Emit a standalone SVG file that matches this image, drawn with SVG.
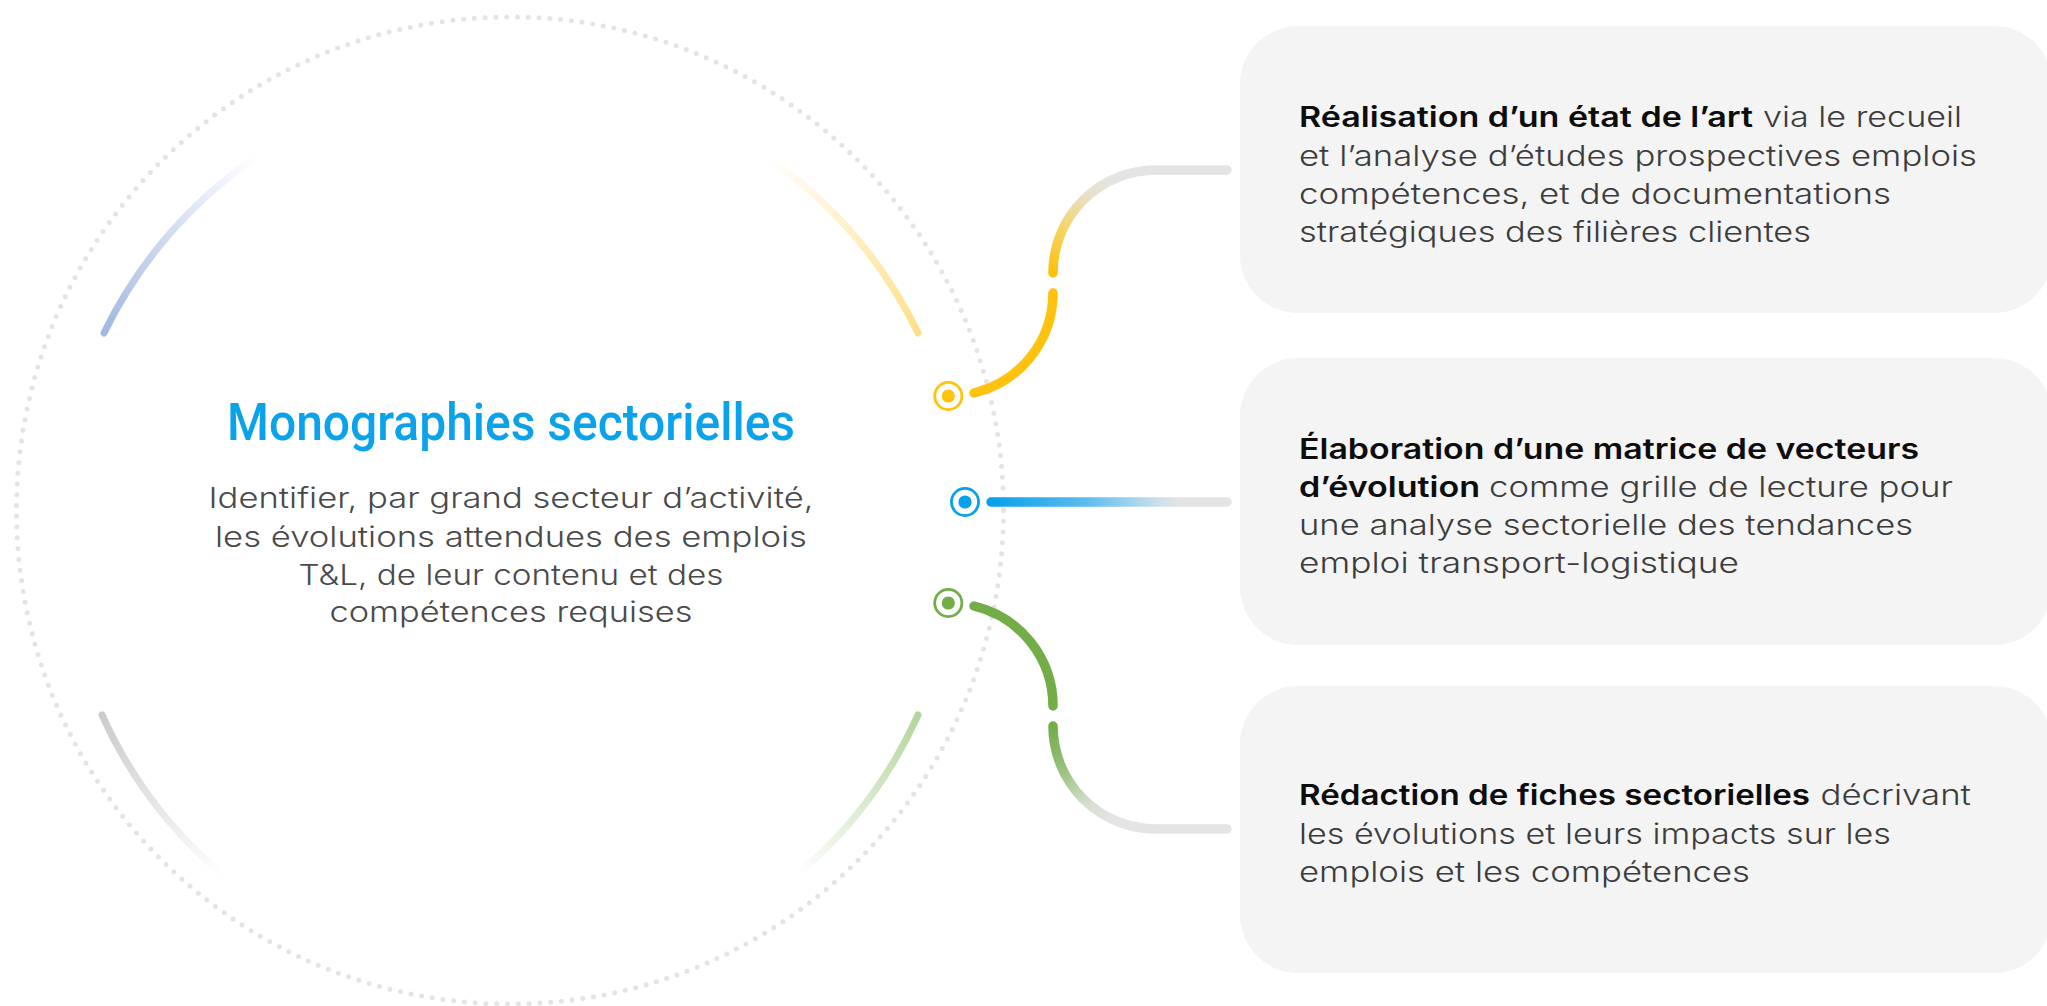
<svg xmlns="http://www.w3.org/2000/svg" width="2047" height="1006" viewBox="0 0 2047 1006">
<style>
.box{fill:#f4f4f4}
.reg{font-family:Inter,"Open Sans","Liberation Sans",sans-serif;font-weight:300;font-size:28px;fill:#3c3c3c}
.bold{font-family:Inter,"Open Sans","Liberation Sans",sans-serif;font-weight:600;font-size:28px;fill:#0d0d0d}
.ctr{font-family:Inter,"Open Sans","Liberation Sans",sans-serif;font-weight:300;font-size:28px;fill:#4a4a4a;text-anchor:middle}
.title{font-family:Roboto,"DejaVu Sans",sans-serif;font-weight:500;font-size:52px;fill:#0aa2eb;text-anchor:middle}
.deco{fill:none;stroke-width:7;stroke-linecap:round}
.conn{fill:none;stroke-width:9.5;stroke-linecap:round}
.ring{fill:#fff;stroke-width:2.8}
</style>
<defs>
<linearGradient id="gBlueArc" gradientUnits="userSpaceOnUse" x1="104" y1="333" x2="255" y2="158"><stop offset="0" stop-color="#a3b8e0"/><stop offset="1" stop-color="#a3b8e0" stop-opacity="0"/></linearGradient>
<linearGradient id="gYelArc" gradientUnits="userSpaceOnUse" x1="918" y1="333" x2="768" y2="158"><stop offset="0" stop-color="#fedf88"/><stop offset="1" stop-color="#fedf88" stop-opacity="0"/></linearGradient>
<linearGradient id="gGrayArc" gradientUnits="userSpaceOnUse" x1="102" y1="715" x2="223" y2="875"><stop offset="0" stop-color="#cbcbcb"/><stop offset="1" stop-color="#cbcbcb" stop-opacity="0"/></linearGradient>
<linearGradient id="gGreenArc" gradientUnits="userSpaceOnUse" x1="918" y1="715" x2="797" y2="875"><stop offset="0" stop-color="#b2d59c"/><stop offset="1" stop-color="#b2d59c" stop-opacity="0"/></linearGradient>
<linearGradient id="gYelConn" gradientUnits="userSpaceOnUse" x1="1053" y1="273" x2="1115" y2="180"><stop offset="0" stop-color="#fcc10e"/><stop offset="0.35" stop-color="#f6d35e"/><stop offset="0.7" stop-color="#e8dfbf"/><stop offset="1" stop-color="#e4e4e4"/></linearGradient>
<linearGradient id="gGreenConn" gradientUnits="userSpaceOnUse" x1="1053" y1="726" x2="1115" y2="819"><stop offset="0" stop-color="#72ad47"/><stop offset="0.4" stop-color="#9cc382"/><stop offset="0.75" stop-color="#d6dfcf"/><stop offset="1" stop-color="#e4e4e4"/></linearGradient>
<linearGradient id="gBlueConn" gradientUnits="userSpaceOnUse" x1="991" y1="0" x2="1227" y2="0"><stop offset="0" stop-color="#0aa0ea"/><stop offset="0.4" stop-color="#5bbcee"/><stop offset="0.72" stop-color="#cfe0ea"/><stop offset="0.8" stop-color="#e4e4e4"/><stop offset="1" stop-color="#e4e4e4"/></linearGradient>
</defs>

<g id="node-center">
<circle cx="510" cy="510.5" r="493.5" fill="none" stroke="#e4e4e4" stroke-width="5" stroke-linecap="round" stroke-dasharray="0 10.8"/>
<path class="deco" stroke="url(#gBlueArc)" d="M104,333 A450,450 0 0 1 255,158"/>
<path class="deco" stroke="url(#gYelArc)" d="M918,333 A450,450 0 0 0 768,158"/>
<path class="deco" stroke="url(#gGrayArc)" d="M102,715 A450,450 0 0 0 223,875"/>
<path class="deco" stroke="url(#gGreenArc)" d="M918,715 A450,450 0 0 1 797,875"/>
<text class="title" x="511" y="440" textLength="568" lengthAdjust="spacingAndGlyphs">Monographies sectorielles</text>
<text class="ctr" x="511" y="508" textLength="605" lengthAdjust="spacingAndGlyphs">Identifier, par grand secteur d’activité,</text>
<text class="ctr" x="511" y="546.5" textLength="592" lengthAdjust="spacingAndGlyphs">les évolutions attendues des emplois</text>
<text class="ctr" x="511" y="585" textLength="425" lengthAdjust="spacingAndGlyphs">T&amp;L, de leur contenu et des</text>
<text class="ctr" x="511" y="622" textLength="363" lengthAdjust="spacingAndGlyphs">compétences requises</text>
</g>

<g id="connectors">
<g id="conn-yellow">
<circle class="ring" cx="948.3" cy="396" r="13.6" stroke="#ffc20e"/>
<circle cx="948.3" cy="396" r="6.6" fill="#ffc20e"/>
<path class="conn" stroke="#ffc20e" d="M974,393 A103,103 0 0 0 1053,293"/>
<path class="conn" stroke="url(#gYelConn)" d="M1053,273 A103,103 0 0 1 1156,170 L1227,170"/>
</g>
<g id="conn-blue">
<circle class="ring" cx="965" cy="502" r="13.6" stroke="#0aa0ea"/>
<circle cx="965" cy="502" r="6.6" fill="#0aa0ea"/>
<path class="conn" stroke="url(#gBlueConn)" d="M991,502 L1227,502"/>
</g>
<g id="conn-green">
<circle class="ring" cx="948.3" cy="603" r="13.6" stroke="#72ad47"/>
<circle cx="948.3" cy="603" r="6.6" fill="#72ad47"/>
<path class="conn" stroke="#72ad47" d="M974,606 A103,103 0 0 1 1053,706"/>
<path class="conn" stroke="url(#gGreenConn)" d="M1053,726 A103,103 0 0 0 1156,829 L1227,829"/>
</g>
</g>

<g id="node-box1">
<rect class="box" x="1240" y="26" width="812" height="287" rx="58"/>
<text class="bold" x="1299" y="127" textLength="454" lengthAdjust="spacingAndGlyphs">Réalisation d’un état de l’art</text>
<text class="reg" x="1763" y="127" textLength="199" lengthAdjust="spacingAndGlyphs">via le recueil</text>
<text class="reg" x="1299" y="165.5" textLength="678" lengthAdjust="spacingAndGlyphs">et l’analyse d’études prospectives emplois</text>
<text class="reg" x="1299" y="204" textLength="592" lengthAdjust="spacingAndGlyphs">compétences, et de documentations</text>
<text class="reg" x="1299" y="242" textLength="512" lengthAdjust="spacingAndGlyphs">stratégiques des filières clientes</text>
</g>

<g id="node-box2">
<rect class="box" x="1240" y="358" width="812" height="287" rx="58"/>
<text class="bold" x="1299" y="458.5" textLength="620" lengthAdjust="spacingAndGlyphs">Élaboration d’une matrice de vecteurs</text>
<text class="bold" x="1299" y="497" textLength="181" lengthAdjust="spacingAndGlyphs">d’évolution</text>
<text class="reg" x="1489" y="497" textLength="464" lengthAdjust="spacingAndGlyphs">comme grille de lecture pour</text>
<text class="reg" x="1299" y="535" textLength="614" lengthAdjust="spacingAndGlyphs">une analyse sectorielle des tendances</text>
<text class="reg" x="1299" y="573" textLength="440" lengthAdjust="spacingAndGlyphs">emploi transport-logistique</text>
</g>

<g id="node-box3">
<rect class="box" x="1240" y="686" width="812" height="287" rx="58"/>
<text class="bold" x="1299" y="805" textLength="511" lengthAdjust="spacingAndGlyphs">Rédaction de fiches sectorielles</text>
<text class="reg" x="1820.5" y="805" textLength="150.5" lengthAdjust="spacingAndGlyphs">décrivant</text>
<text class="reg" x="1299" y="843.5" textLength="592" lengthAdjust="spacingAndGlyphs">les évolutions et leurs impacts sur les</text>
<text class="reg" x="1299" y="882" textLength="451" lengthAdjust="spacingAndGlyphs">emplois et les compétences</text>
</g>
</svg>
